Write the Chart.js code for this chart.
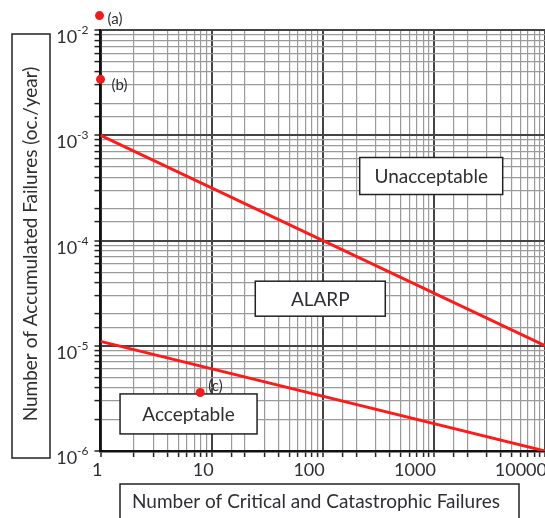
<!DOCTYPE html>
<html>
<head>
<meta charset="utf-8">
<script src="https://cdn.jsdelivr.net/npm/chart.js@4.4.1/dist/chart.umd.min.js"></script>
<style>
  html, body { margin: 0; padding: 0; background: #fff; }
  #wrap { width: 545px; height: 518px; }
</style>
</head>
<body>
<div id="wrap"><canvas id="grafico" width="545" height="518"></canvas></div>
<script>
// Dados do gráfico
const xTickValues = [1, 10, 100, 1000, 10000];
const yTickExponents = [-6, -5, -4, -3, -2];

const upperLineX = [1, 10000];
const upperLineY = [1e-3, 1e-5];
const lowerLineX = [1, 10000];
const lowerLineY = [1.1e-5, 1e-6];

const pointNames = ['(a)', '(b)', '(c)'];
const pointX = [0.98, 1.0, 7.9];
const pointY = [1.37e-2, 3.4e-3, 3.6e-6];

const regionNames = ['Unacceptable', 'ALARP', 'Acceptable'];
const regionX = [946, 95, 6.2];
const regionY = [4.1e-4, 2.8e-5, 2.25e-6];

const xTitle = 'Number of Critical and Catastrophic Failures';
const yTitle = 'Number of Accumulated Failures (oc./year)';

const FONT = 'Lato, "Open Sans", sans-serif';
const TEXT_COLOR = '#2e2e33';
const RED = '#ff1a1a';

function toXY(xs, ys) {
    return xs.map((x, i) => ({ x: x, y: ys[i] }));
}

function isMajor(v) {
    const l = Math.log10(v);
    return Math.abs(l - Math.round(l)) < 1e-6;
}

// caixas das regiões, pontos marcados e rótulos dos eixos
const annotacoes = {
    id: 'annotacoes',
    beforeDatasetsDraw(chart) {
        const ctx = chart.ctx;
        const xs = chart.scales.x, ys = chart.scales.y;
        const sizes = [[143, 37], [130, 35], [137, 40]];
        ctx.save();
        regionNames.forEach((name, i) => {
            const cx = xs.getPixelForValue(regionX[i]);
            const cy = ys.getPixelForValue(regionY[i]);
            const w = sizes[i][0], h = sizes[i][1];
            ctx.fillStyle = '#fff';
            ctx.fillRect(cx - w / 2, cy - h / 2, w, h);
            ctx.strokeStyle = '#222';
            ctx.lineWidth = 1.5;
            ctx.strokeRect(cx - w / 2, cy - h / 2, w, h);
            ctx.fillStyle = TEXT_COLOR;
            ctx.font = '19px ' + FONT;
            ctx.textAlign = 'center';
            ctx.textBaseline = 'middle';
            ctx.fillText(name, cx, cy + 1);
        });
        ctx.restore();
    },
    afterDraw(chart) {
        const ctx = chart.ctx;
        const xs = chart.scales.x, ys = chart.scales.y;
        const area = chart.chartArea;
        ctx.save();

        // pontos (a), (b), (c) - o (a) fica acima da área do gráfico
        const offsets = [[8, 4], [11, 6], [8, -6]];
        pointNames.forEach((name, i) => {
            const px = xs.getPixelForValue(pointX[i]);
            const py = ys.getPixelForValue(pointY[i]);
            ctx.fillStyle = '#ee1c1c';
            ctx.beginPath();
            ctx.arc(px, py, 4.5, 0, Math.PI * 2);
            ctx.fill();
            ctx.fillStyle = TEXT_COLOR;
            ctx.font = '15px ' + FONT;
            ctx.textAlign = 'left';
            ctx.textBaseline = 'middle';
            ctx.fillText(name, px + offsets[i][0], py + offsets[i][1]);
        });

        ctx.fillStyle = TEXT_COLOR;
        // ticks do eixo x
        ctx.font = '18px ' + FONT;
        ctx.textAlign = 'right';
        ctx.textBaseline = 'top';
        xTickValues.forEach(v => {
            ctx.fillText(String(v), xs.getPixelForValue(v) + 2, area.bottom + 10);
        });

        // ticks do eixo y com expoente
        yTickExponents.forEach(e => {
            const py = ys.getPixelForValue(Math.pow(10, e));
            const exp = String(e);
            ctx.font = '12px ' + FONT;
            const ew = ctx.measureText(exp).width;
            ctx.textAlign = 'right';
            ctx.textBaseline = 'alphabetic';
            ctx.fillText(exp, area.left - 12, py + 4);
            ctx.font = '18px ' + FONT;
            ctx.fillText('10', area.left - 12 - ew, py + 13);
        });

        // títulos em caixas
        ctx.strokeStyle = '#222';
        ctx.lineWidth = 1.5;
        ctx.fillStyle = '#fff';
        ctx.fillRect(12, 34, 38, 424);
        ctx.strokeRect(12, 34, 38, 424);
        ctx.fillRect(120, 484, 399, 40);
        ctx.strokeRect(120, 484, 399, 40);

        ctx.fillStyle = TEXT_COLOR;
        ctx.font = '19px ' + FONT;
        ctx.textAlign = 'center';
        ctx.textBaseline = 'middle';
        ctx.fillText(xTitle, 316, 502);

        ctx.translate(31, 244);
        ctx.rotate(-Math.PI / 2);
        ctx.fillText(yTitle, 0, 0);
        ctx.restore();
    }
};

const gridColor = c => (c.tick && isMajor(c.tick.value)) ? '#444' : '#9a9a9a';
const gridWidth = c => (c.tick && isMajor(c.tick.value)) ? 2 : 1.2;

new Chart(document.getElementById('grafico'), {
    type: 'scatter',
    data: {
        datasets: [
            {
                data: toXY(upperLineX, upperLineY),
                showLine: true,
                borderColor: RED,
                borderWidth: 3,
                pointRadius: 0
            },
            {
                data: toXY(lowerLineX, lowerLineY),
                showLine: true,
                borderColor: RED,
                borderWidth: 3,
                pointRadius: 0
            }
        ]
    },
    options: {
        responsive: false,
        animation: false,
        layout: { autoPadding: false, padding: { left: 94.5, top: 30, right: 0, bottom: 61 } },
        plugins: {
            legend: { display: false },
            tooltip: { enabled: false }
        },
        scales: {
            x: {
                type: 'logarithmic',
                min: 1,
                max: 10000,
                ticks: { display: false },
                border: { color: '#111', width: 2.5 },
                grid: {
                    color: gridColor,
                    lineWidth: gridWidth,
                    tickColor: '#222',
                    tickLength: 6,
                    tickWidth: 1.5
                }
            },
            y: {
                type: 'logarithmic',
                min: 1e-6,
                max: 1e-2,
                ticks: { display: false },
                border: { color: '#111', width: 2.5 },
                grid: {
                    color: gridColor,
                    lineWidth: gridWidth,
                    tickColor: '#222',
                    tickLength: 6,
                    tickWidth: 1.5
                }
            }
        }
    },
    plugins: [annotacoes]
});
</script>
</body>
</html>
